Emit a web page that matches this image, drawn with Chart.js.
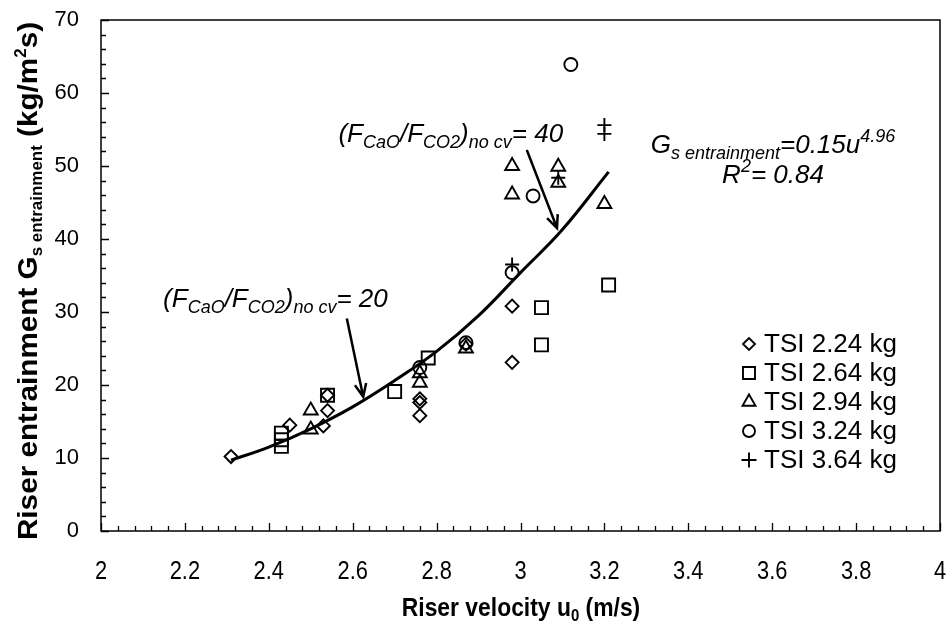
<!DOCTYPE html>
<html>
<head>
<meta charset="utf-8">
<title>Riser entrainment</title>
<script src="https://cdn.jsdelivr.net/npm/chart.js"></script>
<style>
  html, body { margin: 0; padding: 0; background: #fff; }
  #wrap { width: 952px; height: 630px; }
</style>
</head>
<body>
<div id="wrap"><canvas id="chart" width="952" height="630"></canvas></div>
<script>
// measured points, u0 (m/s) vs Gs (kg/m2s), one pair of arrays per inventory
const tsi224U = [2.31, 2.45, 2.53, 2.54, 2.54, 2.76, 2.76, 2.76, 2.87, 2.98, 2.98];
const tsi224G = [10.2, 14.5, 14.4, 16.5, 18.6, 18.1, 17.6, 15.8, 25.6, 30.8, 23.1];
const tsi264U = [2.43, 2.43, 2.43, 2.54, 2.70, 2.78, 3.05, 3.05, 3.21];
const tsi264G = [13.4, 12.5, 11.6, 18.6, 19.1, 23.7, 30.6, 25.5, 33.7];
const tsi294U = [2.50, 2.50, 2.76, 2.76, 2.87, 2.98, 2.98, 3.09, 3.09, 3.20];
const tsi294G = [16.5, 13.9, 21.6, 20.3, 25.0, 50.0, 46.1, 49.9, 47.7, 44.8];
const tsi324U = [2.76, 2.87, 2.98, 3.03, 3.12];
const tsi324G = [22.4, 25.8, 35.4, 45.9, 63.9];
const tsi364U = [2.98, 3.09, 3.20, 3.20];
const tsi364G = [36.5, 48.4, 55.6, 54.4];

// power-law trend line
const fitU = [2.31, 2.4, 2.5, 2.6, 2.7, 2.8, 2.9, 3.0, 3.1, 3.21];
const fitG = [9.7, 11.5, 14.0, 17.0, 20.6, 24.6, 29.5, 35.4, 41.3, 49.2];

const seriesNames = ['TSI 2.24 kg', 'TSI 2.64 kg', 'TSI 2.94 kg', 'TSI 3.24 kg', 'TSI 3.64 kg'];
const xTicks = [2, 2.2, 2.4, 2.6, 2.8, 3, 3.2, 3.4, 3.6, 3.8, 4];
const yTicks = [0, 10, 20, 30, 40, 50, 60, 70];

const FONT = '"Liberation Sans", Arial, sans-serif';

function pts(us, gs) {
    return us.map(function (u, i) { return { x: u, y: gs[i] }; });
}

function markerSet(label, us, gs, style, radius) {
    return {
        type: 'scatter',
        label: label,
        data: pts(us, gs),
        pointStyle: style,
        pointRadius: radius,
        pointHoverRadius: radius,
        pointBorderWidth: 1.9,
        borderColor: '#000',
        backgroundColor: 'rgba(0,0,0,0)',
        pointBorderColor: '#000',
        pointBackgroundColor: 'rgba(0,0,0,0)'
    };
}

const markers = [
    { style: 'rectRot', r: 6.5, legendR: 6 },
    { style: 'rect', r: 9.2, legendR: 8.5 },
    { style: 'triangle', r: 8, legendR: 7.5 },
    { style: 'circle', r: 6.5, legendR: 6 },
    { style: 'cross', r: 7, legendR: 7.5 }
];

// draw a run of text pieces: [text, size, dy, style]
function drawRich(ctx, parts, x, y, align) {
    const fontOf = function (p) { return p[3] + ' ' + p[1] + 'px ' + FONT; };
    let w = 0;
    parts.forEach(function (p) {
        ctx.font = fontOf(p);
        w += ctx.measureText(p[0]).width;
    });
    let cx = align === 'center' ? x - w / 2 : x;
    ctx.textAlign = 'left';
    ctx.textBaseline = 'alphabetic';
    parts.forEach(function (p) {
        ctx.font = fontOf(p);
        ctx.fillText(p[0], cx, y + p[2]);
        cx += ctx.measureText(p[0]).width;
    });
}

function arrow(ctx, x1, y1, x2, y2) {
    const a = Math.atan2(y2 - y1, x2 - x1);
    const len = 14, spread = 0.42;
    ctx.beginPath();
    ctx.moveTo(x1, y1);
    ctx.lineTo(x2, y2);
    ctx.moveTo(x2 - len * Math.cos(a - spread), y2 - len * Math.sin(a - spread));
    ctx.lineTo(x2, y2);
    ctx.lineTo(x2 - len * Math.cos(a + spread), y2 - len * Math.sin(a + spread));
    ctx.stroke();
}

function ratioText(value) {
    return [
        ['(F', 26, 0, 'italic'],
        ['CaO', 18, 6, 'italic'],
        ['/F', 26, 0, 'italic'],
        ['CO2', 18, 6, 'italic'],
        [')', 26, 0, 'italic'],
        ['no cv', 18, 6, 'italic'],
        ['= ' + value, 26, 0, 'italic']
    ];
}

const framePlugin = {
    id: 'frame',
    afterDraw: function (chart) {
        const ctx = chart.ctx;
        const xs = chart.scales.x, ys = chart.scales.y;
        const a = chart.chartArea;
        ctx.save();
        ctx.strokeStyle = '#000';
        ctx.fillStyle = '#000';
        ctx.lineWidth = 1.5;
        ctx.strokeRect(a.left, a.top, a.right - a.left, a.bottom - a.top);

        // inward ticks
        ctx.lineWidth = 1.3;
        ctx.beginPath();
        for (let i = 0; i <= 50; i++) {
            const v = 2 + i * 0.04;
            const px = Math.round(xs.getPixelForValue(v)) + 0.5;
            const len = i % 5 === 0 ? 8 : 5;
            ctx.moveTo(px, a.bottom);
            ctx.lineTo(px, a.bottom - len);
        }
        for (let i = 0; i <= 35; i++) {
            const py = Math.round(ys.getPixelForValue(i * 2)) + 0.5;
            const len = i % 5 === 0 ? 8 : 5;
            ctx.moveTo(a.left, py);
            ctx.lineTo(a.left + len, py);
        }
        ctx.stroke();

        // x tick labels, condensed
        ctx.font = '26px ' + FONT;
        ctx.textAlign = 'center';
        ctx.textBaseline = 'middle';
        xTicks.forEach(function (v) {
            ctx.save();
            ctx.translate(xs.getPixelForValue(v), 572);
            ctx.scale(0.84, 1);
            ctx.fillText(String(v), 0, 0);
            ctx.restore();
        });

        // axis titles
        ctx.save();
        ctx.translate(521, 616);
        ctx.scale(0.88, 1);
        drawRich(ctx, [
            ['Riser velocity u', 26, 0, 'bold'],
            ['0', 17, 5, 'bold'],
            [' (m/s)', 26, 0, 'bold']
        ], 0, 0, 'center');
        ctx.restore();

        ctx.save();
        ctx.translate(37, 281);
        ctx.rotate(-Math.PI / 2);
        ctx.scale(1.06, 1);
        drawRich(ctx, [
            ['Riser entrainment G', 28, 0, 'bold'],
            ['s entrainment', 16, 5, 'bold'],
            [' (kg/m', 28, 0, 'bold'],
            ['2', 16, -11, 'bold'],
            ['s)', 28, 0, 'bold']
        ], 0, 0, 'center');
        ctx.restore();

        // annotations placed in data units
        const px = function (u) { return xs.getPixelForValue(u); };
        const py = function (g) { return ys.getPixelForValue(g); };
        ctx.lineWidth = 2.5;
        drawRich(ctx, ratioText('40'), px(2.566), py(53.3), 'left');
        arrow(ctx, px(3.015), py(52.2), px(3.087), py(41.5));

        drawRich(ctx, ratioText('20'), px(2.148), py(30.7), 'left');
        arrow(ctx, px(2.586), py(29.1), px(2.625), py(18.4));

        drawRich(ctx, [
            ['G', 26, 0, 'italic'],
            ['s entrainment', 18, 6, 'italic'],
            ['=0.15u', 26, 0, 'italic'],
            ['4.96', 18, -11, 'italic']
        ], 773, 153, 'center');
        drawRich(ctx, [
            ['R', 26, 0, 'italic'],
            ['2', 18, -11, 'italic'],
            ['= 0.84', 26, 0, 'italic']
        ], 773, 183, 'center');

        // legend
        const drawPoint = Chart.helpers && Chart.helpers.drawPoint;
        seriesNames.forEach(function (name, i) {
            const cy = 344 + i * 29;
            if (drawPoint) {
                ctx.lineWidth = 1.9;
                ctx.strokeStyle = '#000';
                ctx.fillStyle = 'rgba(0,0,0,0)';
                drawPoint(ctx, {
                    pointStyle: markers[i].style,
                    radius: markers[i].legendR,
                    rotation: 0,
                    borderWidth: 1.9
                }, 749, cy);
            }
            ctx.fillStyle = '#000';
            ctx.font = '26px ' + FONT;
            ctx.textAlign = 'left';
            ctx.textBaseline = 'middle';
            ctx.fillText(name, 764, cy + 1);
        });
        ctx.restore();
    }
};

const datasets = [
    {
        type: 'line',
        label: 'fit',
        data: pts(fitU, fitG),
        borderColor: '#000',
        borderWidth: 3,
        pointRadius: 0,
        fill: false,
        tension: 0.4
    },
    markerSet(seriesNames[0], tsi224U, tsi224G, markers[0].style, markers[0].r),
    markerSet(seriesNames[1], tsi264U, tsi264G, markers[1].style, markers[1].r),
    markerSet(seriesNames[2], tsi294U, tsi294G, markers[2].style, markers[2].r),
    markerSet(seriesNames[3], tsi324U, tsi324G, markers[3].style, markers[3].r),
    markerSet(seriesNames[4], tsi364U, tsi364G, markers[4].style, markers[4].r)
];

new Chart(document.getElementById('chart'), {
    data: { datasets: datasets },
    options: {
        responsive: false,
        animation: false,
        devicePixelRatio: 1,
        layout: { padding: { top: 20, right: 12, left: 0, bottom: 0 } },
        plugins: { legend: { display: false }, tooltip: { enabled: false } },
        scales: {
            x: {
                type: 'linear',
                min: 2,
                max: 4,
                afterFit: function (s) { s.height = 99; s.paddingLeft = 0; s.paddingRight = 0; },
                afterBuildTicks: function (s) { s.ticks = xTicks.map(function (v) { return { value: v }; }); },
                grid: { display: false },
                border: { display: false },
                ticks: { display: false }
            },
            y: {
                type: 'linear',
                min: 0,
                max: 70,
                afterFit: function (s) { s.width = 101; s.paddingTop = 0; s.paddingBottom = 0; },
                afterBuildTicks: function (s) { s.ticks = yTicks.map(function (v) { return { value: v }; }); },
                grid: { display: false },
                border: { display: false },
                ticks: {
                    padding: 14,
                    color: '#000',
                    font: { family: FONT, size: 22 }
                }
            }
        }
    },
    plugins: [framePlugin]
});
</script>
</body>
</html>
